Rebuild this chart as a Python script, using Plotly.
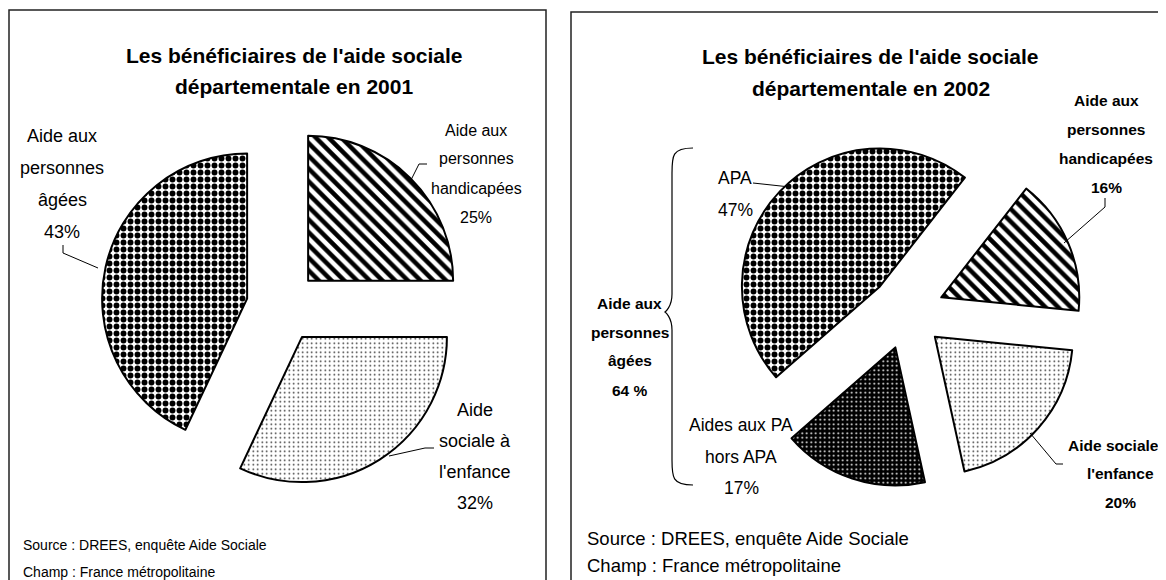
import plotly.graph_objects as go

# ---------------- data ----------------
cats_2001 = ["Aide aux personnes handicapées", "Aide sociale à l'enfance", "Aide aux personnes âgées"]
vals_2001 = [25, 32, 43]

cats_2002 = ["Aide aux personnes handicapées", "Aide sociale à l'enfance", "Aides aux PA hors APA", "APA"]
vals_2002 = [16, 20, 17, 47]

title_2001 = ["Les bénéficiaires de l'aide sociale", "départementale en 2001"]
title_2002 = ["Les bénéficiaires de l'aide sociale", "départementale en 2002"]
source_lines = ["Source : DREES, enquête Aide Sociale", "Champ : France métropolitaine"]

# ---------------- helpers ----------------
# The page body has an 8px default margin: the figure is sized to fill the
# remaining window and all positions below are given in window pixels.
OFF = 8
W, H = 1166 - OFF, 580 - OFF
FONT = "Liberation Sans, Arial, sans-serif"


def fx(x):
    return (x - OFF) / W


def fy(y):
    return 1 - (y - OFF) / H


def pct(v):
    return f"{v}%"


annotations = []
shapes = []


def text_block(lines, x, y0, dy, size, bold=False, xanchor="center"):
    for i, t in enumerate(lines):
        annotations.append(dict(
            text=t, x=fx(x), y=fy(y0 + i * dy), xref="paper", yref="paper",
            xanchor=xanchor, yanchor="middle", showarrow=False,
            font=dict(family=FONT, size=size, color="black",
                      weight="bold" if bold else "normal"),
        ))


def polyline(pts, width=1, color="black"):
    d = "M " + " L ".join(f"{fx(px)},{fy(py)}" for px, py in pts)
    shapes.append(dict(type="path", xref="paper", yref="paper", path=d,
                       line=dict(color=color, width=width)))


def domain(cx, cy, r, pull):
    half = r * (1 + pull)
    return dict(x=[fx(cx - half), fx(cx + half)],
                y=[fy(cy + half), fy(cy - half)])


# ---------------- pies ----------------
pull_2001 = 0.25
pull_2002 = 0.27

fig = go.Figure()

fig.add_trace(go.Pie(
    labels=cats_2001, values=vals_2001, sort=False, direction="clockwise",
    rotation=0, pull=pull_2001, textinfo="none", showlegend=False,
    hoverinfo="label+percent",
    domain=domain(282.5, 306.5, 145, pull_2001),
    marker=dict(
        colors=["white", "white", "white"],
        line=dict(color="black", width=2),
        pattern=dict(
            shape=["\\", ".", "."],
            fgcolor=["black", "#222222", "black"],
            bgcolor=["white", "white", "white"],
            size=[9, 4.5, 7],
            solidity=[0.5, 0.1, 0.55],
            fillmode="replace",
        ),
    ),
))

fig.add_trace(go.Pie(
    labels=cats_2002, values=vals_2002, sort=False, direction="clockwise",
    rotation=38, pull=pull_2002, textinfo="none", showlegend=False,
    hoverinfo="label+percent",
    domain=domain(907, 312, 138, pull_2002),
    marker=dict(
        colors=["white", "white", "black", "white"],
        line=dict(color="black", width=2),
        pattern=dict(
            shape=["\\", ".", ".", "."],
            fgcolor=["black", "#222222", "white", "black"],
            bgcolor=["white", "white", "black", "white"],
            size=[9, 4.5, 4.5, 7],
            solidity=[0.5, 0.1, 0.15, 0.55],
            fillmode="replace",
        ),
    ),
))

# ---------------- frames ----------------
shapes.append(dict(type="rect", xref="paper", yref="paper",
                   x0=fx(9), x1=fx(546), y0=fy(600), y1=fy(10),
                   line=dict(color="#222222", width=1.5)))
shapes.append(dict(type="rect", xref="paper", yref="paper",
                   x0=fx(571), x1=fx(1161), y0=fy(600), y1=fy(12),
                   line=dict(color="#222222", width=1.5)))

# ---------------- texts 2001 ----------------
text_block(title_2001, 294, 55, 31, 21, bold=True)
text_block(["Aide aux", "personnes", "âgées", pct(vals_2001[2])], 62, 136, 32, 18)
text_block(["Aide aux", "personnes", "handicapées", pct(vals_2001[0])], 476, 130, 29, 16)
text_block(["Aide", "sociale à", "l'enfance", pct(vals_2001[1])], 475, 410, 31, 18)
text_block(source_lines, 21, 545, 27, 14, xanchor="left")

polyline([(63, 245), (63, 253), (98, 268)])
polyline([(427, 164), (419, 164), (411, 180)])
polyline([(434, 448), (425, 448), (389, 456)])

# ---------------- texts 2002 ----------------
age_total = vals_2002[2] + vals_2002[3]
text_block(title_2002, 871, 57, 31, 21, bold=True)
text_block(["Aide aux", "personnes", "handicapées", pct(vals_2002[0])], 1106, 100, 29.3, 15.5, bold=True)
text_block(["APA", pct(vals_2002[3])], 735, 178, 32, 17.5)
text_block(["Aides aux PA", "hors APA", pct(vals_2002[2])], 741, 425, 31.5, 17.5)
text_block(["Aide aux", "personnes", "âgées", f"{age_total} %"], 630, 303, 29, 15.5, bold=True)
text_block(["Aide sociale à", "l'enfance", pct(vals_2002[1])], 1120, 445, 28.5, 15.5, bold=True)
text_block(source_lines, 585, 538, 27, 18.5, xanchor="left")

polyline([(753, 183), (790, 187)])
polyline([(1105, 198), (1105, 207), (1064, 243)])
polyline([(1063, 464), (1056, 464), (1030, 433)])

# brace "{" grouping APA + hors APA
bx_end, bx_v, bx_tip = 693, 672, 665
by_top, by_mid, by_bot = 148, 312, 485
brace = (
    f"M {fx(bx_end)},{fy(by_top)} "
    f"C {fx(bx_v)},{fy(by_top)} {fx(bx_v)},{fy(by_top + 8)} {fx(bx_v)},{fy(by_top + 25)} "
    f"L {fx(bx_v)},{fy(by_mid - 18)} "
    f"C {fx(bx_v)},{fy(by_mid - 5)} {fx(bx_tip)},{fy(by_mid)} {fx(bx_tip)},{fy(by_mid)} "
    f"C {fx(bx_tip)},{fy(by_mid)} {fx(bx_v)},{fy(by_mid + 5)} {fx(bx_v)},{fy(by_mid + 18)} "
    f"L {fx(bx_v)},{fy(by_bot - 25)} "
    f"C {fx(bx_v)},{fy(by_bot - 8)} {fx(bx_v)},{fy(by_bot)} {fx(bx_end)},{fy(by_bot)}"
)
shapes.append(dict(type="path", xref="paper", yref="paper", path=brace,
                   line=dict(color="black", width=1.2)))

fig.update_layout(
    width=W, height=H,
    margin=dict(l=0, r=0, t=0, b=0),
    paper_bgcolor="white", plot_bgcolor="white",
    annotations=annotations, shapes=shapes,
    showlegend=False,
)

fig.write_html("out.html")
